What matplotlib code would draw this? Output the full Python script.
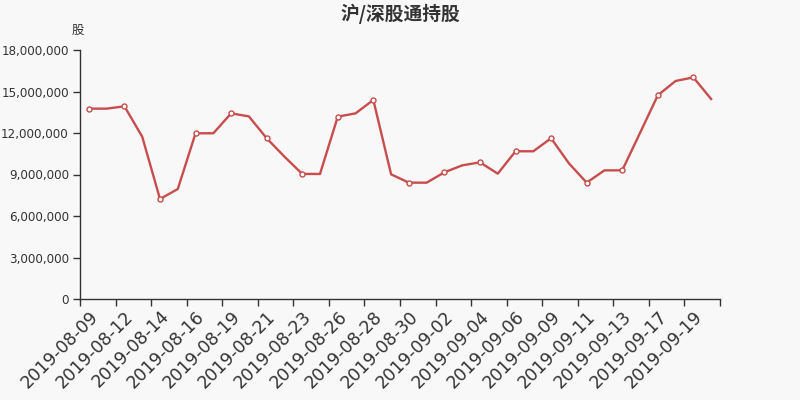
import matplotlib
matplotlib.use("Agg")
import matplotlib.pyplot as plt
from matplotlib.ticker import FuncFormatter, FixedLocator

plt.rcParams['font.family'] = ['DejaVu Sans', 'Noto Sans CJK SC']

dates = ["2019-08-09", "2019-08-10", "2019-08-12", "2019-08-13", "2019-08-14", "2019-08-15",
         "2019-08-16", "2019-08-17", "2019-08-19", "2019-08-20", "2019-08-21", "2019-08-22",
         "2019-08-23", "2019-08-24", "2019-08-26", "2019-08-27", "2019-08-28", "2019-08-29",
         "2019-08-30", "2019-08-31", "2019-09-02", "2019-09-03", "2019-09-04", "2019-09-05",
         "2019-09-06", "2019-09-07", "2019-09-09", "2019-09-10", "2019-09-11", "2019-09-12",
         "2019-09-13", "2019-09-16", "2019-09-17", "2019-09-18", "2019-09-19", "2019-09-20"]
holdings = [13760000, 13760000, 13930000, 11730000, 7230000, 7950000,
            11980000, 11980000, 13420000, 13200000, 11620000, 10290000,
            9040000, 9040000, 13180000, 13420000, 14390000, 9010000,
            8410000, 8410000, 9160000, 9660000, 9880000, 9060000,
            10680000, 10680000, 11620000, 9810000, 8410000, 9300000,
            9300000, 12000000, 14720000, 15760000, 16020000, 14460000]
yticks = [0, 3000000, 6000000, 9000000, 12000000, 15000000, 18000000]

bg = '#f8f8f8'
fig = plt.figure(figsize=(8, 4), dpi=100, facecolor=bg)
ax = fig.add_axes([0.1, 0.2525, 0.8, 0.6225], facecolor=bg)

x = list(range(len(dates)))
ax.plot(x, holdings, color='#c84d4d', lw=1.7, marker='o', markersize=3.6,
        markerfacecolor='white', markeredgecolor='#c84d4d', markeredgewidth=1,
        markevery=2, zorder=3)

ax.set_xlim(-0.5, len(dates) - 0.5)
ax.set_ylim(0, 18000000)
ax.yaxis.set_major_locator(FixedLocator(yticks))
ax.yaxis.set_major_formatter(FuncFormatter(lambda v, p: f"{int(v):,}"))

# ticks on boundaries every two categories, labels at category centers
ax.xaxis.set_major_locator(FixedLocator([i - 0.5 for i in range(0, len(dates) + 1, 2)]))
ax.xaxis.set_major_formatter(FuncFormatter(lambda v, p: ""))
ax.xaxis.set_minor_locator(FixedLocator(list(range(0, len(dates), 2))))
ax.set_xticklabels([dates[i] for i in range(0, len(dates), 2)], minor=True,
                   rotation=45, ha='right', rotation_mode='anchor', fontsize=12.5, color='#333333')
ax.tick_params(axis='x', which='minor', length=0, pad=6)
ax.tick_params(axis='x', which='major', length=5, width=1, color='#333333')
ax.tick_params(axis='y', length=5, width=1, color='#333333', labelsize=8.6, labelcolor='#333333', pad=3)

for s in ['top', 'right']:
    ax.spines[s].set_visible(False)
for s in ['left', 'bottom']:
    ax.spines[s].set_color('#333333')
    ax.spines[s].set_linewidth(1)

fig.text(0.5, 0.965, "沪/深股通持股", ha='center', va='center', fontsize=13.5,
         fontweight='bold', color='#333333', family=['Noto Sans CJK SC', 'DejaVu Sans'])
fig.text(0.0975, 0.925, "股", ha='center', va='center', fontsize=9,
         color='#333333', family=['Noto Sans CJK SC', 'DejaVu Sans'])

fig.savefig("out.png", dpi=100, facecolor=bg)
